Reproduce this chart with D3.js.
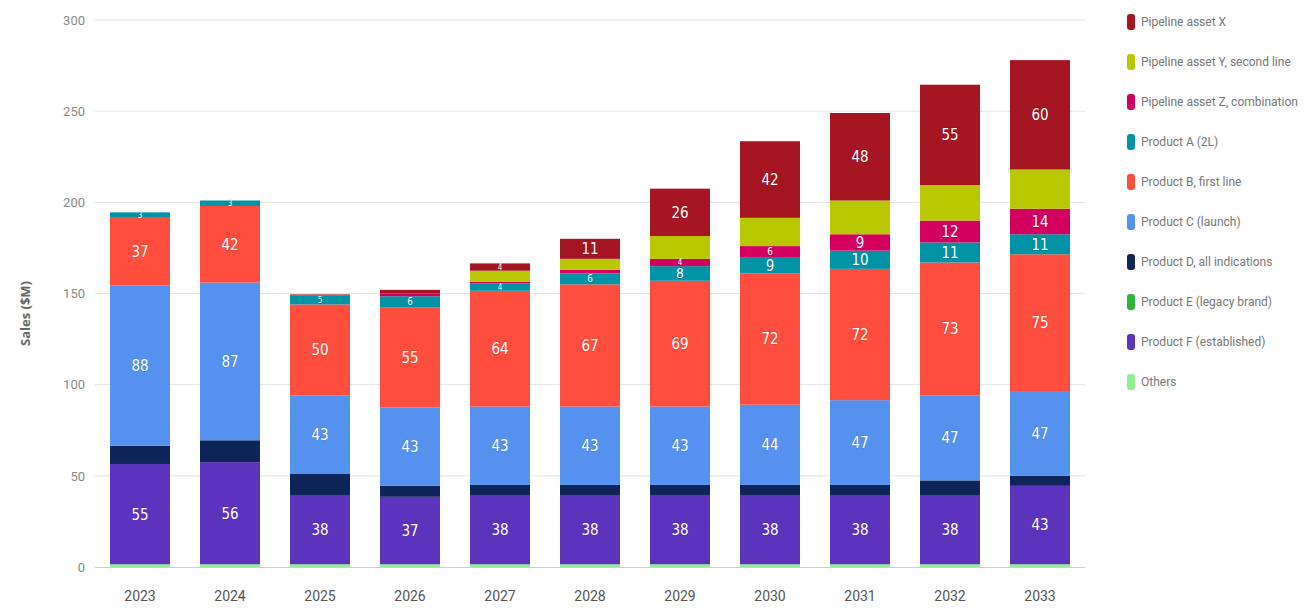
<!DOCTYPE html>
<html>
<head>
<meta charset="utf-8">
<script src="https://cdn.jsdelivr.net/npm/d3@7"></script>
<style>
  html, body { margin: 0; padding: 0; background: #fff; }
  svg { display: block; }
</style>
</head>
<body>
<svg id="chart" width="1311" height="609"></svg>
<script>
// ---- data ----
const years = ["2023","2024","2025","2026","2027","2028","2029","2030","2031","2032","2033"];
const yTicks = [0, 50, 100, 150, 200, 250, 300];

// series listed bottom-of-stack first
const seriesNames = [
  "Others",
  "Product F (established)",
  "Product E (legacy brand)",
  "Product D, all indications",
  "Product C (launch)",
  "Product B, first line",
  "Product A (2L)",
  "Pipeline asset Z, combination",
  "Pipeline asset Y, second line",
  "Pipeline asset X"
];
const seriesColors = ["#8ff08f","#5c33bd","#2db53b","#0f2458","#5592f0","#ff4e3d","#0092a5","#d4005f","#b9c800","#a51522"];
const seriesLabelled = [false, true, false, false, true, true, true, true, false, true];

const othersVals   = [1.5, 1.5, 1.5, 1.5, 1.5, 1.5, 1.5, 1.5, 1.5, 1.5, 1.5];
const purpleVals   = [55, 56, 38, 37, 38, 38, 38, 38, 38, 38, 43];
const greenVals    = [0, 0, 0, 0, 0, 0, 0, 0, 0, 0, 0];
const navyVals     = [10, 12, 11.5, 6, 5.5, 5.5, 5.5, 5.5, 5.5, 8, 5.5];
const blueVals     = [88, 86.5, 43, 43, 43, 43, 43, 44, 46.5, 46.5, 46.5];
const redVals      = [37, 42, 50, 55, 63.5, 67, 69, 72, 72, 73, 75];
const tealVals     = [3, 3, 5, 6, 4, 6, 8, 9, 10, 11, 11];
const magentaVals  = [0, 0, 0, 1.5, 1, 2, 4, 6, 9, 12, 14];
const limeVals     = [0, 0, 0, 0, 6, 6, 12.5, 15.5, 18.5, 19.5, 21.5];
const darkRedVals  = [0, 0, 0.5, 2, 4, 11, 26, 42, 48, 55, 60];

const seriesValues = [othersVals, purpleVals, greenVals, navyVals, blueVals, redVals, tealVals, magentaVals, limeVals, darkRedVals];

// ---- build table ----
const keys = seriesNames;
const table = years.map((yr, i) => {
  const row = { year: yr };
  keys.forEach((k, s) => row[k] = seriesValues[s][i]);
  return row;
});

const svg = d3.select("#chart");
const margin = { left: 95, right: 1085, top: 20, bottom: 567 };

const x = d3.scaleBand().domain(years).range([margin.left, margin.right])
  .paddingInner(1/3).paddingOuter(1/6);
const y = d3.scaleLinear().domain([0, 300]).range([margin.bottom, margin.top]);

// gridlines
const grid = svg.append("g");
grid.selectAll("line").data(yTicks.filter(t => t > 0)).join("line")
  .attr("x1", margin.left).attr("x2", margin.right)
  .attr("y1", d => y(d)).attr("y2", d => y(d))
  .attr("stroke", "#e3e3e3").attr("stroke-width", 1);

// y axis labels
const yAxis = d3.axisLeft(y).tickValues(yTicks).tickSize(0).tickPadding(10);
const yg = svg.append("g").attr("transform", `translate(${margin.left},0)`).call(yAxis);
yg.select(".domain").remove();
yg.selectAll("text").attr("fill", "#8a8a8a").style("font-family", "Roboto, 'Open Sans', sans-serif").style("font-size", "13px");

// y title
svg.append("text")
  .attr("transform", `translate(30,${(margin.top + margin.bottom) / 2 + 20}) rotate(-90)`)
  .attr("text-anchor", "middle")
  .attr("fill", "#666")
  .style("font-family", "'Open Sans', Roboto, sans-serif")
  .style("font-weight", "bold")
  .style("font-size", "13px")
  .text("Sales ($M)");

// stacks
const stack = d3.stack().keys(keys);
const stacked = stack(table);

const layers = svg.append("g").selectAll("g").data(stacked).join("g")
  .attr("fill", (d, i) => seriesColors[i]);
layers.selectAll("rect").data(d => d).join("rect")
  .attr("x", d => x(d.data.year))
  .attr("width", x.bandwidth())
  .attr("y", d => y(d[1]))
  .attr("height", d => Math.max(0, y(d[0]) - y(d[1])));

// x axis baseline
svg.append("line")
  .attr("x1", margin.left).attr("x2", margin.right)
  .attr("y1", y(0) + 0.5).attr("y2", y(0) + 0.5)
  .attr("stroke", "#d0d0d0");

// x axis labels
const xAxis = d3.axisBottom(x).tickSize(0).tickPadding(24);
const xg = svg.append("g").attr("transform", `translate(0,${y(0)})`).call(xAxis);
xg.select(".domain").remove();
xg.selectAll("text").attr("fill", "#555").style("font-family", "Roboto, 'Open Sans', sans-serif").style("font-size", "14px");

// data labels
const labelG = svg.append("g");
stacked.forEach((layer, s) => {
  if (!seriesLabelled[s]) return;
  labelG.selectAll(null).data(layer.filter(d => (d[1] - d[0]) >= 2.5)).join("text")
    .attr("x", d => x(d.data.year) + x.bandwidth() / 2)
    .attr("y", d => (y(d[0]) + y(d[1])) / 2)
    .attr("dy", "0.36em")
    .attr("text-anchor", "middle")
    .attr("fill", "#fff")
    .style("font-family", "'Liberation Sans Narrow', 'DejaVu Sans Condensed', Roboto, sans-serif")
    .style("font-size", d => Math.max(8, Math.min(15, (y(d[0]) - y(d[1])) - 1)) + "px")
    .style("paint-order", "stroke")
    .style("stroke", "rgba(0,0,0,0.15)")
    .style("stroke-width", "1px")
    .text(d => Math.round(d[1] - d[0]));
});

// legend (top = last series)
const legendItems = seriesNames.map((n, i) => ({ name: n, color: seriesColors[i] })).reverse();
const lg = svg.append("g").selectAll("g").data(legendItems).join("g")
  .attr("transform", (d, i) => `translate(1127,${22 + i * 40})`);
lg.append("rect").attr("x", 0).attr("y", -8).attr("width", 8).attr("height", 16).attr("rx", 3)
  .attr("fill", d => d.color);
lg.append("text").attr("x", 14).attr("dy", "0.35em")
  .attr("fill", "#777")
  .style("font-family", "Roboto, 'Open Sans', sans-serif")
  .style("font-size", "12px")
  .text(d => d.name);
</script>
</body>
</html>
